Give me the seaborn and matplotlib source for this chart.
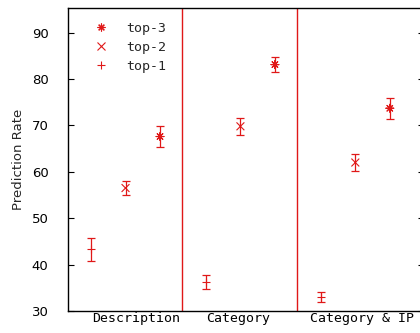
import matplotlib
matplotlib.use("Agg")
import matplotlib.pyplot as plt
import seaborn as sns
import pandas as pd

# Prediction rate (%) with error half-widths, per feature set and top-k
groups = ["Description", "Category", "Category & IP"]
ranks = ["top-3", "top-2", "top-1"]
top1 = [43.3, 36.3, 33.0]
top1_err = [2.5, 1.5, 1.0]
top2 = [56.5, 69.8, 62.0]
top2_err = [1.5, 1.8, 1.9]
top3 = [67.6, 83.1, 73.7]
top3_err = [2.2, 1.7, 2.3]

RED = "#e01818"
GROUP_STEP = 3.33          # horizontal distance between feature-set blocks
label_pos = [1.30, 4.26, 7.86]
dividers = [2.64, 5.97]

rows = []
for gi, g in enumerate(groups):
    for k, (name, vals, errs) in enumerate(
            [("top-1", top1, top1_err), ("top-2", top2, top2_err), ("top-3", top3, top3_err)]):
        rows.append({"group": g, "rank": name, "x": gi * GROUP_STEP + k,
                     "rate": vals[gi], "err": errs[gi]})
df = pd.DataFrame(rows)

sns.set_theme(style="white")
plt.rcParams["font.family"] = ["DejaVu Sans"]

fig = plt.figure(figsize=(4.2, 3.33), dpi=100)
ax = fig.add_axes([68 / 420, 22 / 333, (424 - 68) / 420, 303 / 333])

ax.errorbar(df["x"], df["rate"], yerr=df["err"], fmt="none", ecolor=RED,
            elinewidth=0.9, capsize=3, capthick=0.9, zorder=2)

markers = {"top-3": (8, 2, 0), "top-2": "x", "top-1": "+"}
sns.scatterplot(data=df, x="x", y="rate", style="rank", style_order=ranks,
                markers=markers, color=RED, s=32, linewidth=0.8, ax=ax, zorder=3)

for d in dividers:
    ax.axvline(d, color=RED, lw=1.0, zorder=1)

ax.set_xlim(-0.667, 9.65)
ax.set_ylim(30, 95.3)
ax.set_yticks(range(30, 91, 10))
ax.set_xticks(label_pos)
ax.set_xticklabels(groups, family="DejaVu Sans Mono", fontsize=9.5)
ax.tick_params(axis="x", length=0, pad=1, colors="black")
ax.tick_params(axis="y", direction="in", length=4.5, width=0.8, left=True, right=True,
               labelsize=9.5, pad=14, colors="black")
ax.set_xlabel("")
ax.set_ylabel("Prediction Rate", fontsize=9.5, labelpad=5)

for sp in ax.spines.values():
    sp.set_color("black")
    sp.set_linewidth(1.0)
ax.spines["right"].set_visible(False)

leg = ax.legend(loc="upper left", bbox_to_anchor=(0.045, 0.985), frameon=False,
                handlelength=1.2, handletextpad=1.3, labelspacing=0.45,
                prop={"family": "DejaVu Sans Mono", "size": 9.5}, borderaxespad=0.3)
for h in leg.legend_handles:
    h.set_color(RED)

fig.savefig("out.png", dpi=100)
